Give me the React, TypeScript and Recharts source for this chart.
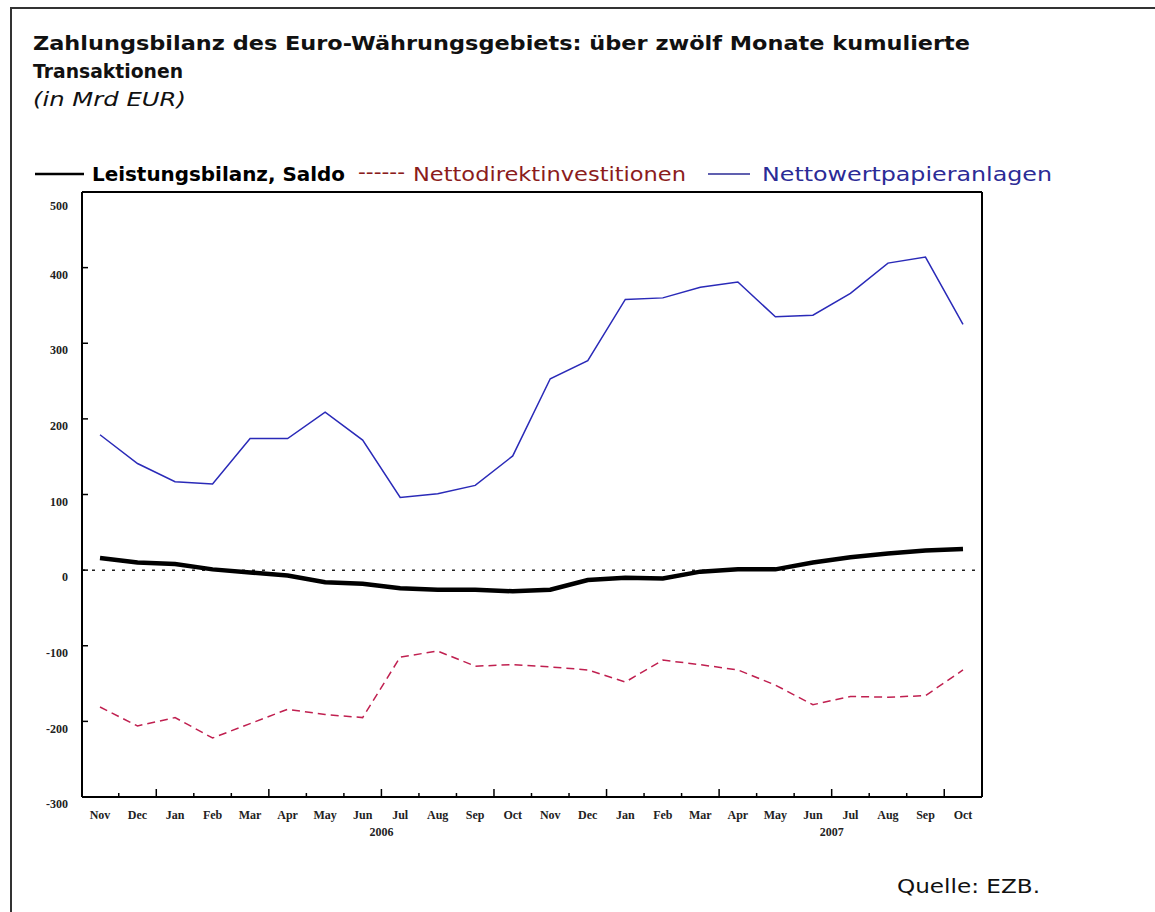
import { LineChart, Line, XAxis, YAxis, ReferenceLine } from 'recharts';

const periods = [
  '2005-11', '2005-12', '2006-01', '2006-02', '2006-03', '2006-04',
  '2006-05', '2006-06', '2006-07', '2006-08', '2006-09', '2006-10',
  '2006-11', '2006-12', '2007-01', '2007-02', '2007-03', '2007-04',
  '2007-05', '2007-06', '2007-07', '2007-08', '2007-09', '2007-10',
];
const monthLabels = [
  'Nov', 'Dec', 'Jan', 'Feb', 'Mar', 'Apr', 'May', 'Jun', 'Jul', 'Aug', 'Sep', 'Oct',
  'Nov', 'Dec', 'Jan', 'Feb', 'Mar', 'Apr', 'May', 'Jun', 'Jul', 'Aug', 'Sep', 'Oct',
];
// year is written under the boundary before July
const yearLabels = [
  '', '', '', '', '', '', '', '', '2006', '', '', '',
  '', '', '', '', '', '', '', '', '2007', '', '', '',
];
const yTicks = [-300, -200, -100, 0, 100, 200, 300, 400, 500];

// Leistungsbilanz, Saldo
const currentAccount = [16, 10, 8, 1, -3, -7, -16, -18, -24, -26, -26, -28, -26, -13, -10, -11, -2, 1, 1, 10, 17, 22, 26, 28];
// Nettodirektinvestitionen
const directInvestment = [-181, -206, -195, -222, -203, -184, -191, -195, -115, -107, -127, -125, -128, -132, -148, -119, -125, -132, -152, -178, -167, -168, -166, -132];
// Nettowertpapieranlagen
const portfolioInvestment = [179, 141, 117, 114, 174, 174, 209, 172, 96, 101, 112, 151, 253, 277, 358, 360, 374, 381, 335, 337, 366, 406, 414, 325];

const data = periods.map((p, i) => ({
  period: p,
  saldo: currentAccount[i],
  direkt: directInvestment[i],
  wertpapier: portfolioInvestment[i],
}));

const PLOT_W = 900;
const PAD_L = 18;
const PAD_R = 19;
const STEP = (PLOT_W - PAD_L - PAD_R) / (periods.length - 1);
const tickFont = { fontFamily: '"Liberation Serif", serif', fontSize: 12, fontWeight: 'bold', fill: '#222' };
const textFont = '"DejaVu Sans", sans-serif';

function MonthTick(props: any) {
  const { x, y } = props;
  const i = props.payload?.index ?? props.index;
  const m = monthLabels[i];
  const long = m === 'Jan' || m === 'Apr' || m === 'Jul' || m === 'Oct';
  const bx = x - STEP / 2;
  return (
    <g>
      {i > 0 && (
        <line x1={bx} x2={bx} y1={y} y2={y - (long ? 8 : 4)} stroke="#000" strokeWidth={1.5} />
      )}
      <text x={x} y={y + 22} textAnchor="middle" {...tickFont}>{m}</text>
      {yearLabels[i] && (
        <text x={bx} y={y + 39} textAnchor="middle" {...tickFont}>{yearLabels[i]}</text>
      )}
    </g>
  );
}

function LeftTick(props: any) {
  const { x, y, payload } = props;
  const v = payload.value;
  const inner = v !== 500 && v !== -300;
  return (
    <g>
      {inner && <line x1={x + 14} x2={x + 20} y1={y} y2={y} stroke="#000" strokeWidth={1.5} />}
      <text x={x} y={y + (v === 500 ? 14 : 7)} dy="0.35em" textAnchor="end" {...tickFont}>{v}</text>
    </g>
  );
}

function RightTick(props: any) {
  const { x, y, payload } = props;
  const v = payload.value;
  const inner = v !== 500 && v !== -300;
  return (
    <g>
      {inner && <line x1={x - 7} x2={x - 13} y1={y} y2={y} stroke="#000" strokeWidth={1.5} />}
      <text x={x} y={y + (v === 500 ? 14 : 7)} dy="0.35em" textAnchor="start" {...tickFont}>{v}</text>
    </g>
  );
}

export default function App() {
  return (
    <div style={{ position: 'absolute', left: 0, top: 0, width: 1155, height: 912, background: '#fff' }}>
      <div
        style={{
          position: 'absolute', left: 10, top: 7, width: 1145, height: 905,
          boxSizing: 'border-box', borderTop: '2px solid #333', borderLeft: '2px solid #333',
        }}
      />
      <div style={{ position: 'absolute', left: 0, top: 0 }}>
        <LineChart
          width={1155}
          height={912}
          data={data}
          margin={{ top: 192, right: 113, bottom: 65, left: 22 }}
        >
          <XAxis
            dataKey="period"
            xAxisId="x"
            interval={0}
            padding={{ left: PAD_L, right: PAD_R }}
            tickSize={0}
            tickMargin={0}
            tickLine={false}
            height={50}
            axisLine={{ stroke: '#000', strokeWidth: 2 }}
            tick={<MonthTick />}
          />
          <YAxis
            yAxisId="left"
            orientation="left"
            width={60}
            domain={[-300, 500]}
            ticks={yTicks}
            interval={0}
            tickSize={0}
            tickMargin={14}
            tickLine={false}
            axisLine={{ stroke: '#000', strokeWidth: 2 }}
            tick={<LeftTick />}
          />
          <YAxis
            yAxisId="right"
            orientation="right"
            width={60}
            domain={[-300, 500]}
            ticks={yTicks}
            interval={0}
            tickSize={0}
            tickMargin={7}
            tickLine={false}
            axisLine={{ stroke: '#000', strokeWidth: 2 }}
            tick={<RightTick />}
          />
          <ReferenceLine xAxisId="x" yAxisId="left" y={500} stroke="#000" strokeWidth={2} />
          <ReferenceLine xAxisId="x" yAxisId="left" y={0} stroke="#222" strokeWidth={1.5} strokeDasharray="3 7" />
          <Line
            xAxisId="x"
            yAxisId="left"
            dataKey="wertpapier"
            type="linear"
            stroke="#2a2ab8"
            strokeWidth={1.5}
            dot={false}
            isAnimationActive={false}
          />
          <Line
            xAxisId="x"
            yAxisId="left"
            dataKey="direkt"
            type="linear"
            stroke="#c02050"
            strokeWidth={1.5}
            strokeDasharray="8 5"
            dot={false}
            isAnimationActive={false}
          />
          <Line
            xAxisId="x"
            yAxisId="left"
            dataKey="saldo"
            type="linear"
            stroke="#000"
            strokeWidth={4.5}
            dot={false}
            isAnimationActive={false}
          />
        </LineChart>
      </div>
      <svg width={1155} height={912} style={{ position: 'absolute', left: 0, top: 0, pointerEvents: 'none' }}>
        <g fontFamily={textFont} fill="#111">
          <text x={33} y={50} fontSize={20} fontWeight="bold" textLength={937} lengthAdjust="spacingAndGlyphs">
            Zahlungsbilanz des Euro-Währungsgebiets: über zwölf Monate kumulierte
          </text>
          <text x={33} y={78} fontSize={20} fontWeight="bold" textLength={150} lengthAdjust="spacingAndGlyphs">
            Transaktionen
          </text>
          <text x={33} y={106} fontSize={20} fontStyle="italic" textLength={153} lengthAdjust="spacingAndGlyphs">
            (in Mrd EUR)
          </text>
        </g>
        <g fontFamily={textFont} fontSize={20}>
          <line x1={35} x2={84} y1={174} y2={174} stroke="#000" strokeWidth={2.5} />
          <text x={92} y={181} fill="#000" fontWeight="bold" textLength={253} lengthAdjust="spacingAndGlyphs">
            Leistungsbilanz, Saldo
          </text>
          <text x={358} y={179} fill="#8b1c1c" textLength={47} lengthAdjust="spacingAndGlyphs">------</text>
          <text x={413} y={181} fill="#8b1c1c" textLength={273} lengthAdjust="spacingAndGlyphs">
            Nettodirektinvestitionen
          </text>
          <line x1={708} x2={750} y1={174} y2={174} stroke="#2b2b96" strokeWidth={1.5} />
          <text x={762} y={181} fill="#2b2b96" textLength={290} lengthAdjust="spacingAndGlyphs">
            Nettowertpapieranlagen
          </text>
        </g>
        <text x={897} y={893} fontFamily={textFont} fontSize={20} fill="#111" textLength={143} lengthAdjust="spacingAndGlyphs">
          Quelle: EZB.
        </text>
      </svg>
    </div>
  );
}
